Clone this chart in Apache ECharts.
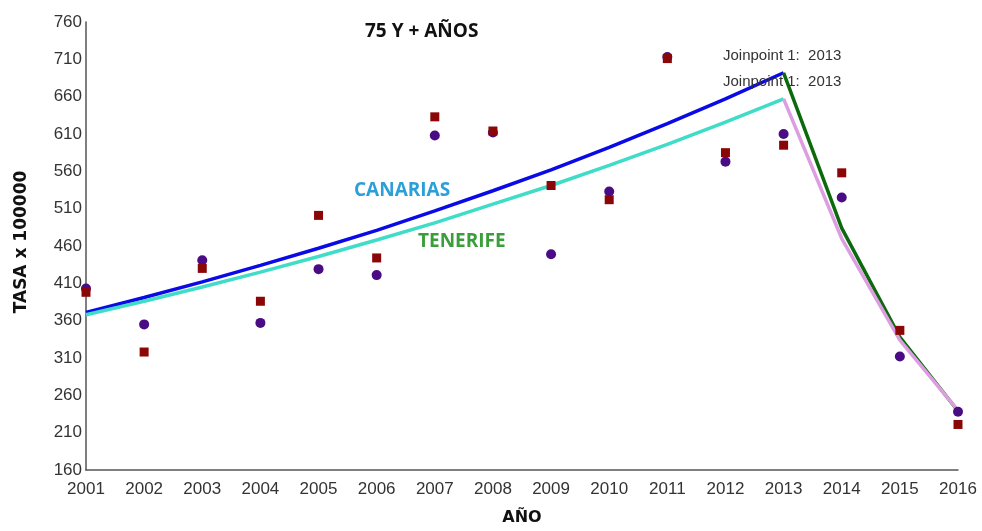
<!DOCTYPE html>
<html>
<head>
<meta charset="utf-8">
<script src="https://cdn.jsdelivr.net/npm/echarts@6/dist/echarts.min.js"></script>
<style>html,body{margin:0;padding:0;background:#fff}#c{width:982px;height:531px}</style>
</head>
<body>
<div id="c"></div>
<script>
const years = [2001,2002,2003,2004,2005,2006,2007,2008,2009,2010,2011,2012,2013,2014,2015,2016];
const canariasObs = [403,355,441,357,429,421,608,612,449,533,713,573,610,525,312,238];
const tenerifeObs = [398,318,430,386,501,444,633,614,541,522,711,585,595,558,347,221];
const fitYears1 = [2001,2002,2003,2004,2005,2006,2007,2008,2009,2010,2011,2012,2013];
const canariasFit1 = [371,391,412,434,457,481,507,534,562,592,624,657,692];
const tenerifeFit1 = [368,386,405,425,446,468,491,516,541,568,596,626,657];
const fitYears2 = [2013,2014,2015,2016];
const canariasFit2 = [692,484,338,239];
const tenerifeFit2 = [657,470,334,240];
const yTicks = [160,210,260,310,360,410,460,510,560,610,660,710,760];

const pairs = (xs, ys) => xs.map((x, i) => [x, ys[i]]);

const chart = echarts.init(document.getElementById('c'));
chart.setOption({
  animation: false,
  grid: {left: 86, top: 22, width: 872, height: 448, containLabel: false},
  xAxis: {
    type: 'value', min: 2001, max: 2016, interval: 1,
    name: 'AÑO', nameLocation: 'middle', nameGap: 40,
    nameTextStyle: {fontFamily: 'DejaVu Sans', fontWeight: 'bold', fontSize: 16, color: '#111'},
    axisLine: {show: true, lineStyle: {color: '#555', width: 1.5}},
    axisTick: {show: false},
    splitLine: {show: false},
    axisLabel: {margin: 11, fontFamily: 'Liberation Sans', fontSize: 17, color: '#333', formatter: v => String(v)}
  },
  yAxis: {
    type: 'value', min: 160, max: 760, interval: 10,
    name: 'TASA x 100000', nameLocation: 'middle', nameGap: 56, nameRotate: 90,
    nameTextStyle: {fontFamily: 'DejaVu Sans', fontWeight: 'bold', fontSize: 17, color: '#111', padding: [0, 0, 0, 8]},
    axisLine: {show: true, lineStyle: {color: '#555', width: 1.5}},
    axisTick: {show: false},
    splitLine: {show: false},
    axisLabel: {margin: 4, fontFamily: 'Liberation Sans', fontSize: 17, color: '#333', showMinLabel: true, showMaxLabel: true,
      formatter: v => yTicks.indexOf(Math.round(v)) >= 0 ? String(Math.round(v)) : ''}
  },
  series: [
    {type: 'line', data: pairs(fitYears1, canariasFit1), showSymbol: false, lineStyle: {color: '#0a0ae6', width: 3.5}, z: 2},
    {type: 'line', data: pairs(fitYears1, tenerifeFit1), showSymbol: false, lineStyle: {color: '#3fdcc8', width: 3.5}, z: 2},
    {type: 'line', data: pairs(fitYears2, canariasFit2), showSymbol: false, lineStyle: {color: '#0b6a0b', width: 3.5}, z: 2},
    {type: 'line', data: pairs(fitYears2, tenerifeFit2), showSymbol: false, lineStyle: {color: '#dc9ee0', width: 3.5}, z: 3},
    {type: 'scatter', data: pairs(years, canariasObs), symbol: 'circle', symbolSize: 10, itemStyle: {color: '#4a0c84', opacity: 1}, z: 4},
    {type: 'scatter', data: pairs(years, tenerifeObs), symbol: 'rect', symbolSize: 9, itemStyle: {color: '#8b0606', opacity: 1}, z: 5}
  ],
  graphic: [
    {type: 'text', left: 365, top: 22, style: {text: '75 Y + AÑOS', font: 'bold 19px "Open Sans"', fill: '#111'}},
    {type: 'text', left: 354, top: 181, style: {text: 'CANARIAS', font: 'bold 19px "Open Sans"', fill: '#2d9fd8'}},
    {type: 'text', left: 418, top: 232, style: {text: 'TENERIFE', font: 'bold 19px "Open Sans"', fill: '#3a9e3a'}},
    {type: 'text', left: 723, top: 48, z: 10, style: {text: 'Joinpoint 1:  2013', font: '15px "Liberation Sans"', fill: '#333'}},
    {type: 'text', left: 723, top: 74, z: 10, style: {text: 'Joinpoint 1:  2013', font: '15px "Liberation Sans"', fill: '#333'}}
  ]
});
</script>
</body>
</html>
